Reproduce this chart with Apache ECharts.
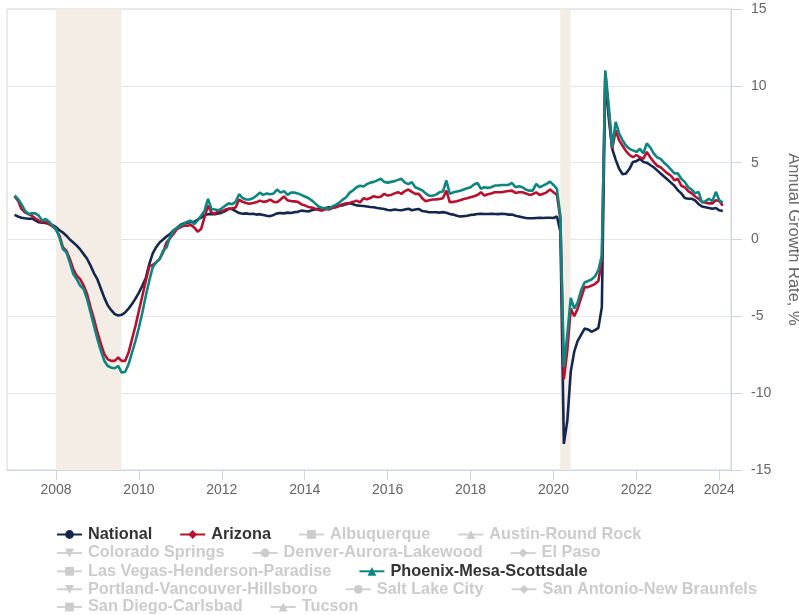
<!DOCTYPE html>
<html>
<head>
<meta charset="utf-8">
<title>Annual Growth Rate</title>
<script src="https://cdn.jsdelivr.net/npm/echarts@6/dist/echarts.min.js"></script>
<style>
  html, body { margin: 0; padding: 0; background: #fff; }
  #main { width: 799px; height: 615px; }
</style>
</head>
<body>
<div id="main"></div>
<script>
// monthly values, Jan 2007 .. Feb 2024 (one row per year)
var startYear = 2007;

var national = [
  1.6, 1.5, 1.42, 1.38, 1.35, 1.37, 1.25, 1.12, 1.1, 1.08, 1.0, 0.93,
  0.8, 0.6, 0.45, 0.25, 0.0, -0.2, -0.4, -0.65, -0.95, -1.25, -1.7, -2.2,
  -2.6, -3.2, -3.8, -4.3, -4.6, -4.85, -4.95, -4.9, -4.75, -4.5, -4.2, -3.85,
  -3.45, -3.0, -2.5, -1.6, -0.9, -0.5, -0.2, 0.0, 0.2, 0.35, 0.6, 0.75,
  0.95, 1.05, 1.1, 1.12, 1.15, 1.3, 1.42, 1.6, 1.65, 1.65, 1.65, 1.7,
  1.75, 1.85, 1.99, 1.98, 1.85, 1.72, 1.68, 1.7, 1.66, 1.68, 1.62, 1.65,
  1.6, 1.55, 1.52, 1.6, 1.7, 1.72, 1.7, 1.75, 1.72, 1.78, 1.8, 1.88,
  1.85, 1.82, 1.9, 1.95, 2.0, 2.02, 2.05, 2.1, 2.08, 2.12, 2.2, 2.22,
  2.3, 2.36, 2.3, 2.22, 2.2, 2.18, 2.15, 2.12, 2.1, 2.05, 2.02, 1.98,
  1.92, 1.9, 1.95, 1.92, 1.9, 1.95, 2.0, 1.9, 1.95, 1.99, 1.85, 1.82,
  1.77, 1.77, 1.77, 1.75, 1.78, 1.74, 1.66, 1.62, 1.55, 1.5, 1.52, 1.55,
  1.6, 1.62, 1.66, 1.68, 1.66, 1.66, 1.68, 1.66, 1.65, 1.68, 1.66, 1.62,
  1.62, 1.55, 1.5, 1.45, 1.4, 1.38, 1.38, 1.4, 1.42, 1.4, 1.42, 1.42,
  1.4, 1.5, 0.5, -13.3, -11.8, -8.6, -7.3, -6.6, -6.2, -5.8, -5.85, -6.0,
  -5.9, -5.75, -4.4, 10.6, 7.9, 5.9, 5.2, 4.6, 4.25, 4.3, 4.6, 5.05,
  5.1, 5.25, 5.05, 5.0, 4.85, 4.7, 4.5, 4.3, 4.1, 3.9, 3.7, 3.5,
  3.2, 3.0, 2.7, 2.65, 2.65, 2.55, 2.3, 2.15, 2.1, 2.05, 2.0, 2.05,
  1.9, 1.85
];

var arizona = [
  2.8, 2.53, 1.99, 1.77, 1.66, 1.55, 1.38, 1.23, 1.12, 1.16, 1.0, 0.86,
  0.64, 0.25, -0.51, -0.73, -1.27, -1.92, -2.36, -2.58, -3.0, -3.55, -4.42, -5.18,
  -6.05, -6.8, -7.47, -7.8, -7.9, -7.9, -7.68, -7.9, -7.9, -7.36, -6.49, -5.62,
  -4.64, -3.66, -2.68, -1.75, -1.66, -1.49, -1.27, -0.84, -0.18, 0.08, 0.36, 0.68,
  0.79, 0.9, 0.9, 0.95, 0.79, 0.51, 0.68, 1.45, 2.2, 1.77, 1.66, 1.88,
  1.82, 1.95, 2.0, 2.03, 2.08, 2.6, 2.45, 2.38, 2.32, 2.38, 2.42, 2.53,
  2.45, 2.48, 2.6, 2.45, 2.42, 2.6, 2.8, 2.55, 2.5, 2.48, 2.45, 2.3,
  2.22, 2.12, 2.08, 2.0, 1.92, 1.88, 1.98, 1.95, 2.05, 2.1, 2.2, 2.3,
  2.35, 2.38, 2.45, 2.53, 2.42, 2.68, 2.62, 2.7, 2.82, 2.75, 2.78, 2.97,
  2.86, 2.9, 3.0, 3.08, 2.97, 3.15, 3.25, 3.1, 2.97, 2.97, 2.68, 2.49,
  2.55, 2.6, 2.6, 2.64, 2.68, 3.18, 2.42, 2.45, 2.49, 2.55, 2.64, 2.68,
  2.75, 2.82, 2.9, 3.07, 2.86, 2.95, 3.0, 3.07, 3.07, 3.07, 3.12, 3.16,
  3.18, 3.03, 3.07, 3.07, 3.0, 2.9, 2.95, 3.07, 2.9, 2.97, 3.07, 3.25,
  3.07, 2.9, 1.3, -9.1, -7.2, -4.5, -5.0, -4.5, -3.8, -3.1, -3.1, -3.0,
  -2.9, -2.7, -1.3, 10.8, 8.3, 5.9, 7.1, 6.45, 6.1, 5.75, 5.5, 5.35,
  5.5, 5.35, 5.25, 5.7, 5.35, 5.05, 4.8, 4.7, 4.5, 4.3, 4.15, 3.85,
  3.95, 3.5, 3.4, 3.15, 3.0, 2.8, 2.65, 2.45, 2.4, 2.35, 2.35, 2.55,
  2.5, 2.2
];

var phoenix = [
  2.86, 2.64, 2.3, 1.88, 1.66, 1.7, 1.7, 1.55, 1.23, 1.34, 1.16, 0.9,
  0.68, 0.14, -0.62, -0.84, -1.49, -2.25, -2.58, -3.0, -3.23, -3.88, -4.75, -5.62,
  -6.49, -7.25, -7.9, -8.23, -8.34, -8.38, -8.23, -8.66, -8.62, -8.12, -7.36, -6.6,
  -5.73, -4.75, -3.66, -2.68, -1.8, -1.49, -1.27, -0.73, -0.51, 0.14, 0.58, 0.73,
  0.9, 1.0, 1.16, 1.23, 1.0, 1.23, 1.55, 1.88, 2.64, 1.99, 1.95, 1.9,
  2.03, 2.2, 2.35, 2.3, 2.45, 2.95, 2.7, 2.6, 2.6, 2.68, 2.85, 3.05,
  2.9, 3.0, 2.95, 3.0, 3.25, 3.05, 3.15, 2.9, 3.05, 3.05, 3.0, 2.9,
  2.8, 2.7, 2.55, 2.35, 2.15, 2.05, 2.05, 2.0, 2.15, 2.25, 2.4, 2.6,
  2.75, 3.05, 3.2, 3.4, 3.5, 3.45, 3.6, 3.7, 3.75, 3.85, 3.95, 3.75,
  3.7, 3.75, 3.8, 3.88, 3.95, 3.7, 3.6, 3.73, 3.4, 3.3, 3.2, 3.0,
  2.85, 2.85, 2.92, 3.07, 3.12, 3.84, 2.97, 3.07, 3.12, 3.18, 3.25, 3.33,
  3.4, 3.58, 3.68, 3.3, 3.4, 3.36, 3.4, 3.51, 3.51, 3.55, 3.55, 3.55,
  3.68, 3.4, 3.47, 3.4, 3.25, 3.18, 3.18, 3.62, 3.4, 3.51, 3.62, 3.77,
  3.55, 3.3, 1.5, -8.3, -6.2, -3.8, -4.5, -4.1, -3.3, -2.8, -2.7, -2.6,
  -2.4, -2.0, -1.05, 11.0, 8.7, 6.0, 7.65, 6.9, 6.45, 6.1, 5.9, 5.8,
  5.7, 5.9, 5.6, 6.25, 6.0, 5.6, 5.35, 5.25, 5.0, 4.8, 4.55, 4.3,
  4.3, 3.95, 3.75, 3.4, 3.25, 3.0, 3.1, 2.4, 2.5, 2.65, 2.5, 3.1,
  2.55, 2.4
];

var recessions = [
  ['2007-12-31', '2009-07-31'],
  ['2020-02-29', '2020-05-31']
];

var yearTicks = [2008, 2010, 2012, 2014, 2016, 2018, 2020, 2022, 2024];

var seriesNames = [
  'National', 'Arizona', 'Albuquerque', 'Austin-Round Rock', 'Colorado Springs',
  'Denver-Aurora-Lakewood', 'El Paso', 'Las Vegas-Henderson-Paradise',
  'Phoenix-Mesa-Scottsdale', 'Portland-Vancouver-Hillsboro', 'Salt Lake City',
  'San Antonio-New Braunfels', 'San Diego-Carlsbad', 'Tucson'
];

var legendRows = [
  ['National', 'Arizona', 'Albuquerque', 'Austin-Round Rock'],
  ['Colorado Springs', 'Denver-Aurora-Lakewood', 'El Paso'],
  ['Las Vegas-Henderson-Paradise', 'Phoenix-Mesa-Scottsdale'],
  ['Portland-Vancouver-Hillsboro', 'Salt Lake City', 'San Antonio-New Braunfels'],
  ['San Diego-Carlsbad', 'Tucson']
];

var seriesValues = {
  'National': national,
  'Arizona': arizona,
  'Phoenix-Mesa-Scottsdale': phoenix
};

var seriesColors = {
  'National': '#14284f',
  'Arizona': '#b8102f',
  'Phoenix-Mesa-Scottsdale': '#0d8682'
};

var triangleDown = 'path://M0,0L10,0L5,9Z';
var symbolCycle = ['circle', 'diamond', 'rect', 'triangle', triangleDown];

var font = '"Liberation Sans", Arial, Helvetica, sans-serif';

// x axis is in fractional years
function yearFrac(s) {
  var d = new Date(s + 'T00:00:00Z');
  var y = d.getUTCFullYear();
  var start = Date.UTC(y, 0, 1), end = Date.UTC(y + 1, 0, 1);
  return y + (d.getTime() - start) / (end - start);
}

var chart = echarts.init(document.getElementById('main'));

var selected = {};
seriesNames.forEach(function (n) { selected[n] = !!seriesValues[n]; });

var series = [{
  name: 'recessions',
  type: 'line',
  data: [],
  silent: true,
  z: 1,
  markArea: {
    silent: true,
    itemStyle: { color: '#f3ede6' },
    data: recessions.map(function (r) {
      return [{ xAxis: yearFrac(r[0]) }, { xAxis: yearFrac(r[1]) }];
    })
  }
}];

seriesNames.forEach(function (name, k) {
  var vals = seriesValues[name] || [];
  series.push({
    name: name,
    type: 'line',
    z: 3,
    symbol: symbolCycle[k % symbolCycle.length],
    symbolSize: 9,
    showSymbol: false,
    color: seriesColors[name] || '#999',
    lineStyle: { width: 2.6 },
    emphasis: { disabled: true },
    data: vals.map(function (v, i) {
      return [startYear + i / 12, v];
    })
  });
});

var legendTops = [521.5, 540, 558.3, 576.3, 594];
var legends = legendRows.map(function (row, r) {
  return {
    data: row,
    left: 51,
    top: legendTops[r],
    orient: 'horizontal',
    itemWidth: 25,
    itemHeight: 11,
    itemGap: 27,
    selected: selected,
    selectedMode: false,
    inactiveColor: '#cccccc',
    textStyle: { fontFamily: font, fontSize: 16.3, fontWeight: 'bold', color: '#333', padding: [0, 0, 0, 1] }
  };
});

chart.setOption({
  animation: false,
  backgroundColor: '#fff',
  textStyle: { fontFamily: font },
  grid: {
    left: 7, right: 68, top: 9, bottom: 145,
    outerBoundsMode: 'none',
    containLabel: false,
    show: true, borderColor: '#d6d6d6', borderWidth: 1
  },
  legend: legends,
  xAxis: {
    type: 'value',
    min: 2006.818,
    max: 2024.282,
    axisLine: { onZero: false, lineStyle: { color: '#ccd6eb', width: 1 } },
    axisTick: {
      show: true, length: 10,
      lineStyle: { color: '#ccd6eb' },
      customValues: yearTicks
    },
    axisLabel: {
      color: '#666', fontSize: 14, margin: 13,
      customValues: yearTicks,
      formatter: function (v) { return String(Math.round(v)); }
    },
    splitLine: { show: false }
  },
  yAxis: {
    type: 'value',
    position: 'right',
    min: -15, max: 15, interval: 5,
    axisLine: { show: true, lineStyle: { color: '#ccd6eb', width: 1 } },
    axisTick: { show: true, length: 11, lineStyle: { color: '#ccd6eb' } },
    axisLabel: { color: '#666', fontSize: 14, margin: 20 },
    splitLine: { lineStyle: { color: '#e6e6e6', width: 1 } },
    name: 'Annual Growth Rate, %',
    nameLocation: 'middle',
    nameRotate: -90,
    nameGap: 54,
    nameTextStyle: { color: '#666', fontSize: 16.5 }
  },
  series: series
});
</script>
</body>
</html>
